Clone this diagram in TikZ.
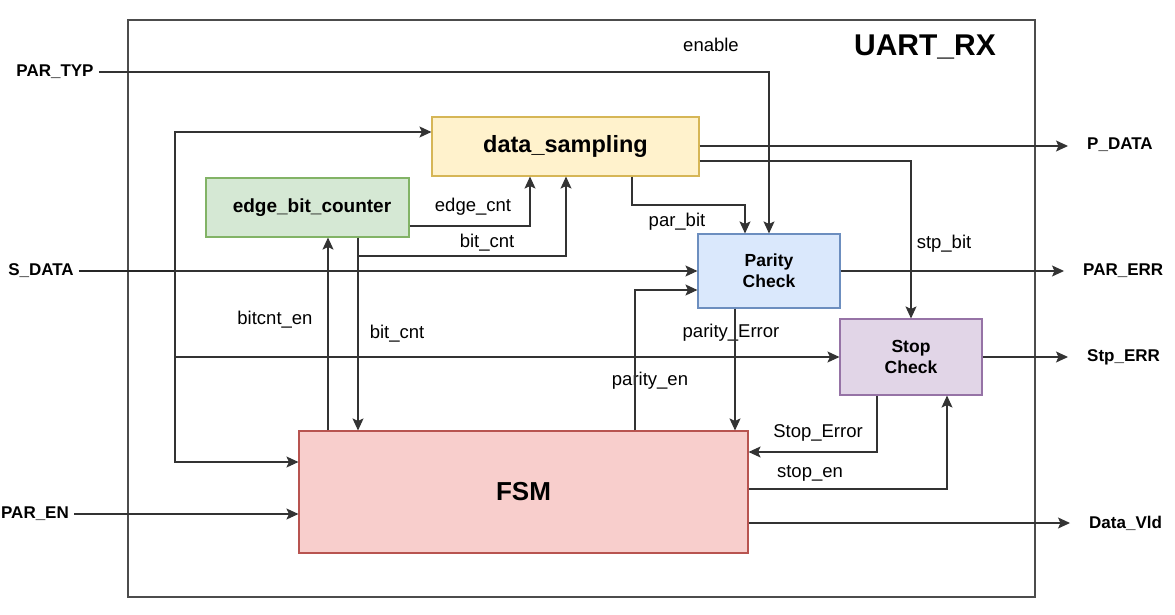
\documentclass[tikz,border=0pt]{standalone}
\usepackage{fontspec}
\setmainfont{Liberation Sans}
\usetikzlibrary{arrows.meta}
\definecolor{ylwF}{HTML}{FFF2CC}\definecolor{ylwD}{HTML}{D6B656}
\definecolor{grnF}{HTML}{D5E8D4}\definecolor{grnD}{HTML}{82B366}
\definecolor{bluF}{HTML}{DAE8FC}\definecolor{bluD}{HTML}{6C8EBF}
\definecolor{purF}{HTML}{E1D5E7}\definecolor{purD}{HTML}{9673A6}
\definecolor{redF}{HTML}{F8CECC}\definecolor{redD}{HTML}{B85450}

\begin{document}
\begin{tikzpicture}[x=1pt,y=-1pt,
  every node/.style={inner sep=0pt},
  blk/.style={draw,rectangle,line width=1.1pt,font=\bfseries},
  wire/.style={line width=1.1pt,draw=black!80,-{Stealth[length=12pt,width=11pt,inset=2.5pt]}},
  lbl/.style={font=\fontsize{18.5}{22}\selectfont},
  port/.style={font=\bfseries\fontsize{17}{20}\selectfont,inner sep=5pt},
  portout/.style={wire,shorten >=14pt}]
\useasboundingbox (0,0) rectangle (1175,615);
\draw[line width=1.2pt,black!70] (128,20) rectangle (1035,597);
\node[font=\bfseries\fontsize{30}{34}\selectfont] (title) at (925,47) {UART\_RX};

% blocks
\node[blk,fill=ylwF,draw=ylwD,minimum width=267,minimum height=59,font=\bfseries\fontsize{23.5}{26}\selectfont] (ds) at (565.5,146.5) {data\_sampling};
\node[blk,fill=grnF,draw=grnD,minimum width=203,minimum height=59,font=\bfseries\fontsize{19}{22}\selectfont] (ebc) at (307.5,207.5) {\hspace{9pt}edge\_bit\_counter};
\node[blk,fill=bluF,draw=bluD,minimum width=142,minimum height=74,align=center,font=\bfseries\fontsize{17.5}{21}\selectfont] (pc) at (769,271) {Parity\\Check};
\node[blk,fill=purF,draw=purD,minimum width=142,minimum height=76,align=center,font=\bfseries\fontsize{17.5}{21}\selectfont] (sc) at (911,357) {Stop\\Check};
\node[blk,fill=redF,draw=redD,minimum width=449,minimum height=122,font=\bfseries\fontsize{26}{30}\selectfont] (fsm) at (523.5,492) {FSM};

% ports
\node[port] (ptyp) at (55,72) {PAR\_TYP};
\node[port] (sdat) at (41,271) {S\_DATA};
\node[port] (pen) at (35,514) {PAR\_EN};
\node[port,anchor=west] (pdat) at (1082,145) {P\_DATA};
\node[port,anchor=west] (perr) at (1078,271) {PAR\_ERR};
\node[port,anchor=west] (serr) at (1082,357) {Stp\_ERR};
\node[port,anchor=west] (dvld) at (1084,523) {Data\_Vld};

% signal names
\node[lbl] (tEn) at (711,45) {enable};
\node[lbl] (tEcnt) at (473,207) {edge\_cnt};
\node[lbl] (tBcnt) at (487,243) {bit\_cnt};
\node[lbl] (tPbit) at (677,222) {par\_bit};
\node[lbl] (tSbit) at (944,244) {stp\_bit};
\node[lbl] (tBen) at (275,320) {bitcnt\_en};
\node[lbl] (tBcnt2) at (397,334) {bit\_cnt};
\node[lbl] (tPerr) at (731,333) {parity\_Error};
\node[lbl] (tPen) at (650,381) {parity\_en};
\node[lbl] (tSerr) at (818,433) {Stop\_Error};
\node[lbl] (tSen) at (810,473) {stop\_en};

\coordinate (j) at (175,271);

% inputs
\draw[wire] (ptyp.east) -| (pc.north);
\draw[wire] (sdat.east) -- (pc.west);
\draw[line width=2pt,black!85] (sdat.east) -- (j);
\draw[wire] (j) |- (ds.west |- 0,132);
\draw[wire] (j) |- (fsm.west |- 0,462);
\draw[wire] (j |- sc.west) -- (sc.west);
\draw[wire] (pen.east) -- (fsm.west |- pen);

% internal
\draw[wire] (ebc.east |- 0,226) -| (ds.south -| 530,0);
\draw[wire] (ebc.south -| 358,0) |- (566,256) -- (ds.south -| 566,0);
\draw[wire] (ebc.south -| 358,0) -- (fsm.north -| 358,0);
\draw[wire] (fsm.north -| 328,0) -- (ebc.south -| 328,0);
\draw[wire] (ds.south -| 632,0) |- (745,205) -- (pc.north -| 745,0);
\draw[wire] (ds.east |- 0,161) -| (sc.north);
\draw[wire] (fsm.north -| 635,0) |- (pc.west |- 0,290);
\draw[wire] (pc.south -| 735,0) -- (fsm.north -| 735,0);
\draw[wire] (sc.south -| 877,0) |- (fsm.east |- 0,452);
\draw[wire] (fsm.east |- 0,489) -| (sc.south -| 947,0);

% outputs
\draw[portout] (ds.east |- 0,146) -- (pdat.west |- 0,146);
\draw[portout] (pc.east) -- (perr.west);
\draw[portout] (sc.east) -- (serr.west);
\draw[portout] (fsm.east |- dvld) -- (dvld.west);
\end{tikzpicture}
\end{document}
